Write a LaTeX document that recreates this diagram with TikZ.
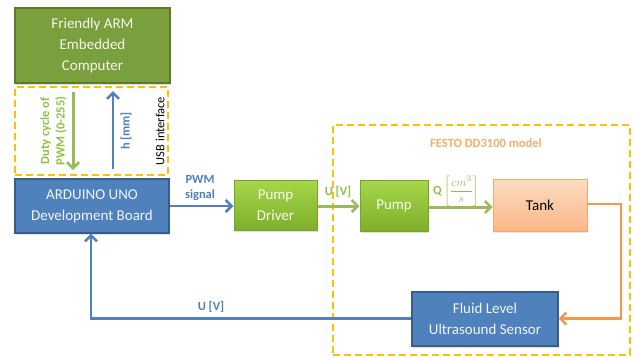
\documentclass[tikz,border=0pt]{standalone}
\usepackage{fontspec}
\setmainfont{Carlito}
\usetikzlibrary{arrows.meta,shadows}
\definecolor{armgreen}{HTML}{7AA03E}
\definecolor{armborder}{HTML}{5E7B2C}
\definecolor{lgtop}{HTML}{A6D64A}
\definecolor{lgbot}{HTML}{7EAF2A}
\definecolor{lgborder}{HTML}{77A52B}
\definecolor{bluefill}{HTML}{4F81BD}
\definecolor{blueborder}{HTML}{385D8A}
\definecolor{tanktop}{HTML}{FDDCC0}
\definecolor{tankbot}{HTML}{F9B888}
\definecolor{tankborder}{HTML}{F6A868}
\definecolor{arrgreen}{HTML}{9BBB59}
\definecolor{labgreen}{HTML}{8FC045}
\definecolor{arrblue}{HTML}{4F81BD}
\definecolor{arrorange}{HTML}{F79646}
\definecolor{dashyellow}{HTML}{FFC000}
\definecolor{festolab}{HTML}{F5AE66}
\tikzset{
  x=1pt, y=-1pt,
  boxtext/.style={font=\fontsize{15}{21}\selectfont, align=center, inner sep=0pt},
  armbox/.style={boxtext, draw=armborder, line width=1.2pt, fill=armgreen, text=white!92!armgreen, drop shadow={opacity=0.25,shadow xshift=1pt,shadow yshift=-1.5pt}},
  greenbox/.style={boxtext, draw=lgborder, line width=1pt, top color=lgtop, bottom color=lgbot, text=white!92!lgtop, drop shadow={opacity=0.25,shadow xshift=1pt,shadow yshift=-1.5pt}},
  bluebox/.style={boxtext, draw=blueborder, line width=1.2pt, fill=bluefill, text=white!92!bluefill, drop shadow={opacity=0.25,shadow xshift=1pt,shadow yshift=-1.5pt}},
  tankbox/.style={boxtext, draw=tankborder, line width=0.8pt, top color=tanktop, bottom color=tankbot, text=black, drop shadow={opacity=0.2,shadow xshift=1pt,shadow yshift=-1.5pt}},
  dashbox/.style={draw=dashyellow, dash pattern=on 7pt off 4pt, inner sep=0pt},
  garrow/.style={draw=arrgreen, line width=3pt, -{Straight Barb[length=6pt,width=12pt,line width=2.5pt]}},
  barrow/.style={draw=arrblue, line width=2.5pt, -{Straight Barb[length=6pt,width=12pt,line width=2.5pt]}},
  oarrow/.style={draw=arrorange, line width=2.5pt, -{Straight Barb[length=6pt,width=12pt,line width=2.5pt]}},
  lab/.style={font=\fontsize{12.5}{15.5}\selectfont\bfseries, align=center, inner sep=0pt},
}
\begin{document}
\begin{tikzpicture}
\useasboundingbox (0,0) rectangle (633,357);
\fill[white] (0,0) rectangle (633,357);

% dashed frames
\node[dashbox, line width=2.6pt, minimum width=153pt, minimum height=88pt] (usb) at (91.5,131) {};
\node[dashbox, line width=2.2pt, minimum width=297pt, minimum height=230pt] (festo) at (481.5,240) {};

% boxes
\node[armbox, minimum width=155pt, minimum height=75pt] (arm) at (92.5,45.5) {Friendly ARM\\Embedded\\Computer};
\node[bluebox, minimum width=154pt, minimum height=54pt] (uno) at (92,206) {ARDUINO UNO\\Development Board};
\node[greenbox, minimum width=83pt, minimum height=50pt] (driver) at (275.5,205.5) {Pump\\Driver};
\node[greenbox, minimum width=68pt, minimum height=51pt] (pump) at (394,205.5) {Pump};
\node[tankbox, minimum width=94pt, minimum height=52pt] (tank) at (540,205) {Tank};
\node[bluebox, minimum width=146pt, minimum height=54pt] (sensor) at (485,319) {Fluid Level\\Ultrasound Sensor};

% USB interface arrows and labels
\coordinate (gdA) at (73,92);
\coordinate (gdB) at (73,170);
\draw[garrow] (gdA) -- (gdB);
\coordinate (buA) at (113,169);
\coordinate (buB) at (113,91);
\draw[barrow] (buA) -- (buB);
\node[lab, text=labgreen, rotate=90] (duty) at (53.5,131) {Duty cycle of\\PWM (0-255)};
\node[lab, text=arrblue, rotate=90] (hmm) at (126,131) {h [mm]};
\node[font=\fontsize{12.5}{15}\selectfont, inner sep=0pt, rotate=90] (usblab) at (160,131) {USB interface};

% forward path
\draw[barrow] (uno.east |- 0,206) -- (driver.west |- 0,206);
\node[lab, text=arrblue] (pwm) at (200,188) {PWM\\signal};
\draw[garrow] (driver.east |- 0,206) -- (pump.west |- 0,206);
\node[lab, text=labgreen] (uv1) at (338,192) {U [V]};
\draw[garrow] (pump.east |- 0,207) -- (tank.west |- 0,207);
\node[text=labgreen, inner sep=0pt, font=\fontsize{12.5}{15}\selectfont] (qlab) at (456,191) {\textbf{Q}\,$\left[\displaystyle\frac{cm^3}{s}\right]$};
\node[lab, text=festolab] (festolab) at (486,143) {FESTO DD3100 model};

% feedback
\coordinate (tr) at (621,204);
\coordinate (br) at (621,318.5);
\draw[oarrow] (tank.east |- 0,204) -- (tr) -- (br) -- (sensor.east |- br);
\coordinate (bl) at (91,318.5);
\draw[barrow] (sensor.west |- bl) -- (bl) -- (bl |- uno.south);
\node[lab, text=arrblue] (uv2) at (211,307) {U [V]};
\end{tikzpicture}
\end{document}
